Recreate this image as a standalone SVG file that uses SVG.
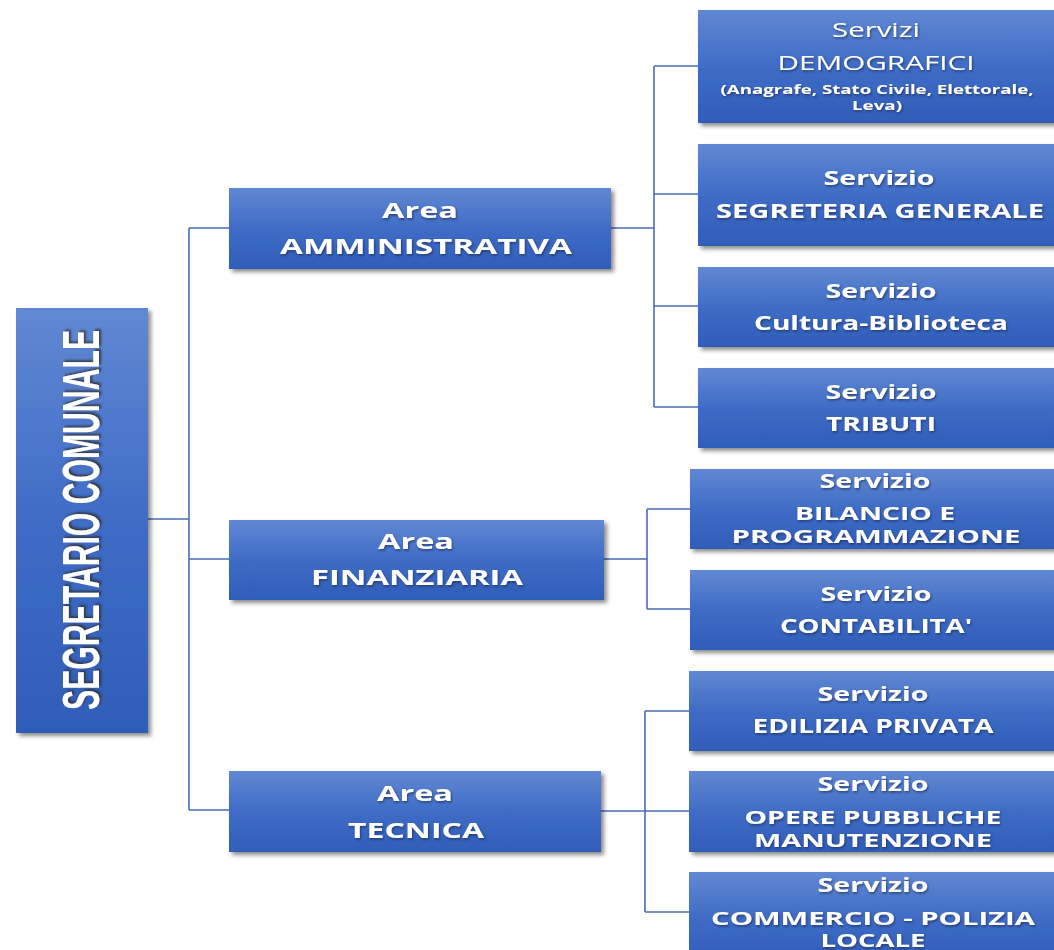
<svg xmlns="http://www.w3.org/2000/svg" width="1054" height="950" viewBox="0 0 1054 950">
<defs>
<linearGradient id="g" x1="0" y1="0" x2="0" y2="1">
<stop offset="0" stop-color="#6188d3"/>
<stop offset="0.5" stop-color="#3f6cc6"/>
<stop offset="1" stop-color="#2f5db8"/>
</linearGradient>
<filter id="bs" x="-5%" y="-5%" width="115%" height="115%">
<feDropShadow dx="3" dy="3" stdDeviation="2" flood-color="#000" flood-opacity="0.45"/>
</filter>
<filter id="ts" x="-5%" y="-20%" width="110%" height="150%">
<feDropShadow dx="1" dy="1.5" stdDeviation="0.8" flood-color="#1a2a50" flood-opacity="0.7"/>
</filter>
<filter id="ts2" x="-20%" y="-5%" width="150%" height="110%">
<feDropShadow dx="2" dy="2" stdDeviation="1.2" flood-color="#333" flood-opacity="0.8"/>
</filter>
</defs>
<style>
.box{fill:url(#g);filter:url(#bs);}
.t{font-family:"Open Sans","Liberation Sans",sans-serif;font-weight:bold;fill:#fff;text-anchor:middle;filter:url(#ts);}
.a{font-size:21px;}
.s{font-size:20px;}
.s2{font-size:18px;}
.r{font-weight:normal;}
.sm{font-size:12px;}
.c{fill:none;stroke:#4a6db3;stroke-width:1.6;}
</style>
<rect width="1054" height="950" fill="#fff"/>
<g id="connectors">
<path class="c" d="M148 519H189M189 228V810M189 228H229M189 559H229M189 810H229"/>
<path class="c" d="M611 228H654M654 66V407M654 66H698M654 194H698M654 306H698M654 407H698"/>
<path class="c" d="M604 559H647M647 509V609M647 509H690M647 609H690"/>
<path class="c" d="M601 811H645M645 711V912M645 711H689M645 811H689M645 912H689"/>
</g>
<g id="segretario">
<rect class="box" x="16" y="308" width="132" height="425"/>
<text transform="translate(99 520) rotate(-90)" font-family="Liberation Sans, Arial, sans-serif" font-weight="bold" font-size="52" fill="#fff" text-anchor="middle" textLength="380" lengthAdjust="spacingAndGlyphs" filter="url(#ts2)">SEGRETARIO COMUNALE</text>
</g>
<g id="area-amm">
<rect class="box" x="229" y="188" width="382" height="81"/>
<text class="t a" x="420" y="218" textLength="76" lengthAdjust="spacingAndGlyphs">Area</text>
<text class="t a" x="426" y="254" textLength="292" lengthAdjust="spacingAndGlyphs">AMMINISTRATIVA</text>
</g>
<g id="area-fin">
<rect class="box" x="229" y="520" width="375" height="80"/>
<text class="t a" x="416" y="549" textLength="76" lengthAdjust="spacingAndGlyphs">Area</text>
<text class="t a" x="417" y="585" textLength="212" lengthAdjust="spacingAndGlyphs">FINANZIARIA</text>
</g>
<g id="area-tec">
<rect class="box" x="229" y="771" width="372" height="81"/>
<text class="t a" x="415" y="801" textLength="76" lengthAdjust="spacingAndGlyphs">Area</text>
<text class="t a" x="416" y="838" textLength="136" lengthAdjust="spacingAndGlyphs">TECNICA</text>
</g>
<g id="demografici">
<rect class="box" x="698" y="10" width="360" height="113"/>
<text class="t s r" x="876" y="37" textLength="88" lengthAdjust="spacingAndGlyphs">Servizi</text>
<text class="t s r" x="876" y="70" textLength="197" lengthAdjust="spacingAndGlyphs">DEMOGRAFICI</text>
<text class="t sm" x="877" y="94" textLength="313" lengthAdjust="spacingAndGlyphs">(Anagrafe, Stato Civile, Elettorale,</text>
<text class="t sm" x="877" y="110" textLength="50" lengthAdjust="spacingAndGlyphs">Leva)</text>
</g>
<g id="segreteria">
<rect class="box" x="698" y="144" width="360" height="102"/>
<text class="t s" x="879" y="185" textLength="111" lengthAdjust="spacingAndGlyphs">Servizio</text>
<text class="t s" x="880" y="218" textLength="328" lengthAdjust="spacingAndGlyphs">SEGRETERIA GENERALE</text>
</g>
<g id="cultura">
<rect class="box" x="698" y="267" width="360" height="80"/>
<text class="t s" x="881" y="298" textLength="111" lengthAdjust="spacingAndGlyphs">Servizio</text>
<text class="t s" x="881" y="330" textLength="254" lengthAdjust="spacingAndGlyphs">Cultura-Biblioteca</text>
</g>
<g id="tributi">
<rect class="box" x="698" y="368" width="360" height="80"/>
<text class="t s" x="881" y="399" textLength="111" lengthAdjust="spacingAndGlyphs">Servizio</text>
<text class="t s" x="881" y="431" textLength="110" lengthAdjust="spacingAndGlyphs">TRIBUTI</text>
</g>
<g id="bilancio">
<rect class="box" x="690" y="469" width="368" height="80"/>
<text class="t s" x="875" y="488" textLength="111" lengthAdjust="spacingAndGlyphs">Servizio</text>
<text class="t s2" x="875" y="520" textLength="160" lengthAdjust="spacingAndGlyphs">BILANCIO E</text>
<text class="t s2" x="876" y="543" textLength="289" lengthAdjust="spacingAndGlyphs">PROGRAMMAZIONE</text>
</g>
<g id="contabilita">
<rect class="box" x="690" y="570" width="368" height="80"/>
<text class="t s" x="876" y="601" textLength="111" lengthAdjust="spacingAndGlyphs">Servizio</text>
<text class="t s" x="876" y="633" textLength="192" lengthAdjust="spacingAndGlyphs">CONTABILITA'</text>
</g>
<g id="edilizia">
<rect class="box" x="689" y="671" width="369" height="80"/>
<text class="t s" x="873" y="701" textLength="111" lengthAdjust="spacingAndGlyphs">Servizio</text>
<text class="t s" x="873" y="733" textLength="241" lengthAdjust="spacingAndGlyphs">EDILIZIA PRIVATA</text>
</g>
<g id="opere">
<rect class="box" x="689" y="771" width="369" height="81"/>
<text class="t s" x="873" y="791" textLength="111" lengthAdjust="spacingAndGlyphs">Servizio</text>
<text class="t s2" x="873" y="824" textLength="257" lengthAdjust="spacingAndGlyphs">OPERE PUBBLICHE</text>
<text class="t s2" x="873" y="847" textLength="238" lengthAdjust="spacingAndGlyphs">MANUTENZIONE</text>
</g>
<g id="commercio">
<rect class="box" x="689" y="872" width="369" height="90"/>
<text class="t s" x="873" y="892" textLength="111" lengthAdjust="spacingAndGlyphs">Servizio</text>
<text class="t s2" x="873" y="925" textLength="324" lengthAdjust="spacingAndGlyphs">COMMERCIO - POLIZIA</text>
<text class="t s2" x="873" y="947" textLength="105" lengthAdjust="spacingAndGlyphs">LOCALE</text>
</g>
</svg>
